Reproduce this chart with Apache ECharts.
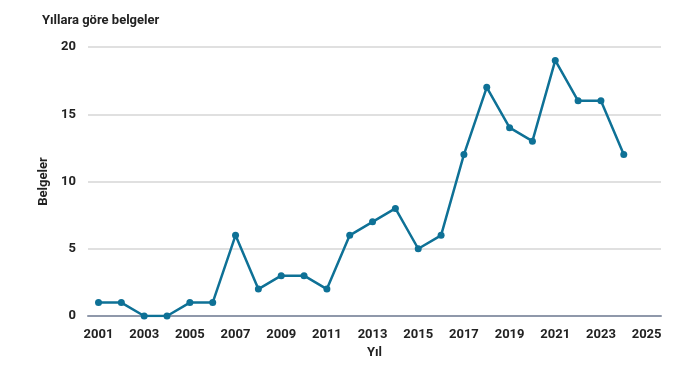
<!DOCTYPE html>
<html><head><meta charset="utf-8">
<script src="https://cdn.jsdelivr.net/npm/echarts@6/dist/echarts.min.js"></script>
<style>html,body{margin:0;padding:0;background:#fff}#c{width:700px;height:369px}</style>
</head><body><div id="c"></div>
<script>
const years = [2001,2002,2003,2004,2005,2006,2007,2008,2009,2010,2011,2012,2013,2014,2015,2016,2017,2018,2019,2020,2021,2022,2023,2024];
const docs = [1,1,0,0,1,1,6,2,3,3,2,6,7,8,5,6,12,17,14,13,19,16,16,12];
const xTicks = [2001,2003,2005,2007,2009,2011,2013,2015,2017,2019,2021,2023,2025];
const yTicks = [0,5,10,15,20];
const chart = echarts.init(document.getElementById('c'));
const font = 'Roboto';
chart.setOption({
  animation:false,
  title:{text:'Yıllara göre belgeler',left:37,top:9,textStyle:{fontFamily:font,fontWeight:'bold',fontSize:13,color:'#222'}},
  grid:{left:88,right:39,top:47,bottom:53},
  xAxis:{type:'value',min:2000.54,max:2025.63,
    name:'Yıl',nameLocation:'middle',nameGap:30,nameTextStyle:{fontFamily:font,fontWeight:'bold',fontSize:13,color:'#222'},
    axisLine:{show:true,lineStyle:{color:'#8f98aa',width:2}},
    axisTick:{show:false},splitLine:{show:false},
    axisLabel:{customValues:xTicks,formatter:v=>String(v),fontFamily:font,fontWeight:'bold',fontSize:13,color:'#222',margin:12}},
  yAxis:{type:'value',min:0,max:20,interval:5,
    name:'Belgeler',nameLocation:'middle',nameGap:35,nameTextStyle:{fontFamily:font,fontWeight:'bold',fontSize:13,color:'#222'},
    axisLine:{show:false},axisTick:{show:false},
    splitLine:{lineStyle:{color:'#d6d6d6',width:1.5}},
    axisLabel:{customValues:yTicks,fontFamily:font,fontWeight:'bold',fontSize:13,color:'#222',margin:12}},
  series:[{type:'line',data:years.map((y,i)=>[y,docs[i]]),symbol:'circle',symbolSize:7,
    lineStyle:{color:'#0e7196',width:2.5},itemStyle:{color:'#0e7196'}}]
});
</script></body></html>
